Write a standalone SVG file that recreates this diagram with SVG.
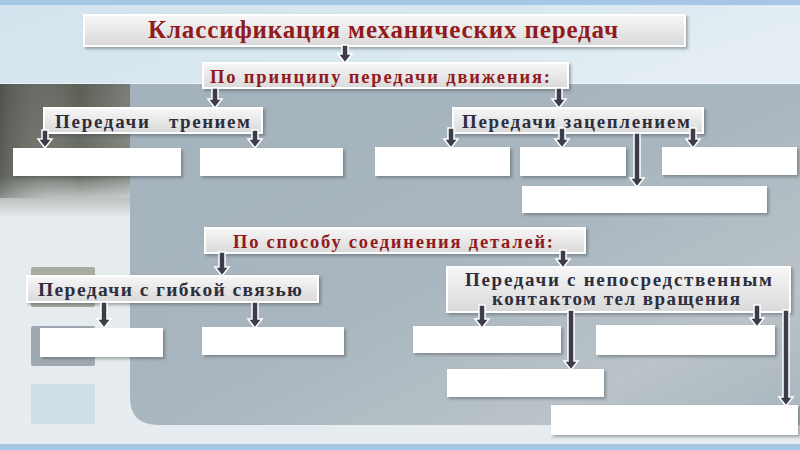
<svg xmlns="http://www.w3.org/2000/svg" width="800" height="450" viewBox="0 0 800 450">
<defs>
<linearGradient id="topBg" x1="0" y1="0" x2="1" y2="0.3">
<stop offset="0" stop-color="#d3e4ee"/><stop offset="0.6" stop-color="#d9e8f0"/><stop offset="1" stop-color="#e4eef4"/>
</linearGradient>
<linearGradient id="panel" x1="0" y1="0" x2="1" y2="1">
<stop offset="0" stop-color="#a3b2bc"/><stop offset="0.5" stop-color="#a9b6bf"/><stop offset="0.8" stop-color="#b9c3c8"/><stop offset="1" stop-color="#a9b6be"/>
</linearGradient>
<linearGradient id="leftCol" x1="0" y1="0" x2="0" y2="1">
<stop offset="0" stop-color="#5a5e55"/><stop offset="0.27" stop-color="#6e726a"/><stop offset="0.33" stop-color="#b9bebd"/><stop offset="0.39" stop-color="#e6ebee"/><stop offset="1" stop-color="#e6ecef"/>
</linearGradient>
<linearGradient id="leftShade" x1="0" y1="0" x2="1" y2="0">
<stop offset="0" stop-color="#3f433c" stop-opacity="0.4"/><stop offset="0.6" stop-color="#ffffff" stop-opacity="0"/><stop offset="1" stop-color="#ffffff" stop-opacity="0.2"/>
</linearGradient>
<linearGradient id="boxGrad" x1="0" y1="0" x2="0" y2="1">
<stop offset="0" stop-color="#f7f7f7"/><stop offset="1" stop-color="#d9d9d9"/>
</linearGradient>
<filter id="sh" x="-10%" y="-30%" width="120%" height="170%">
<feDropShadow dx="2" dy="2" stdDeviation="1.5" flood-color="#404850" flood-opacity="0.45"/>
</filter>
<style>
.node rect.b{fill:url(#boxGrad);stroke:#ffffff;stroke-width:2;filter:url(#sh)}
.leaf rect{fill:#ffffff;filter:url(#sh)}
.red{font-family:"Liberation Serif","DejaVu Serif",serif;font-weight:bold;fill:#921a1d}
.dark{font-family:"Liberation Serif","DejaVu Serif",serif;font-weight:bold;fill:#2e2e3c}
.arr path{fill:#3d3c4a;stroke:#ffffff;stroke-width:1.5;stroke-linejoin:miter}
</style>
</defs>

<!-- background -->
<rect x="0" y="0" width="800" height="450" fill="#e6ecef"/>
<rect x="0" y="5" width="800" height="79" fill="url(#topBg)"/>
<rect x="0" y="83" width="131" height="345" fill="url(#leftCol)"/>
<rect x="0" y="83" width="131" height="115" fill="url(#leftShade)"/>
<path d="M130 83 H800 V425 H158 Q130 425 130 397 Z" fill="url(#panel)"/>
<line x1="0" y1="83.5" x2="800" y2="83.5" stroke="#eef4f8" stroke-width="1"/>
<rect x="0" y="0" width="800" height="5" fill="#a6c6e6"/>
<rect x="0" y="444" width="800" height="6" fill="#a6c6e6"/>
<g id="squares">
<rect x="31" y="267" width="64" height="40" rx="2" fill="#a9ad9f"/>
<rect x="31" y="326" width="64" height="40" rx="2" fill="#9fa9b1"/>
<rect x="31" y="384" width="64" height="40" rx="2" fill="#cfe0e6"/>
</g>

<!-- nodes -->
<g id="n-title" class="node">
<rect class="b" x="84" y="15" width="601" height="31"/>
<text class="red" x="148" y="38" font-size="25" textLength="470" lengthAdjust="spacing">Классификация механических передач</text>
</g>
<g id="n-principle" class="node">
<rect class="b" x="203" y="63" width="365" height="25"/>
<text class="red" x="210" y="83" font-size="18.5" textLength="340" lengthAdjust="spacing">По принципу передачи движения:</text>
</g>
<g id="n-friction" class="node">
<rect class="b" x="44" y="108" width="218" height="25"/>
<text class="dark" font-size="19"><tspan x="55" y="128" textLength="94" lengthAdjust="spacing">Передачи</tspan><tspan x="169" y="128" textLength="81" lengthAdjust="spacing">трением</tspan></text>
</g>
<g id="n-gearing" class="node">
<rect class="b" x="453" y="108" width="250" height="25"/>
<text class="dark" x="462" y="128" font-size="19" textLength="228" lengthAdjust="spacing">Передачи зацеплением</text>
</g>
<g id="n-connection" class="node">
<rect class="b" x="205" y="228" width="380" height="25"/>
<text class="red" x="233" y="248" font-size="18.5" textLength="320" lengthAdjust="spacing">По способу соединения деталей:</text>
</g>
<g id="n-flexible" class="node">
<rect class="b" x="27" y="276" width="291" height="26"/>
<text class="dark" x="38" y="296" font-size="19.5" textLength="264" lengthAdjust="spacing">Передачи с гибкой связью</text>
</g>
<g id="n-direct" class="node">
<rect class="b" x="447" y="267" width="343" height="45"/>
<text class="dark" font-size="19"><tspan x="465" y="286" textLength="307" lengthAdjust="spacing">Передачи с непосредственным</tspan><tspan x="492" y="305" textLength="248" lengthAdjust="spacing">контактом тел вращения</tspan></text>
</g>

<g id="leaf-1" class="leaf"><rect x="13" y="148" width="168" height="28"/></g>
<g id="leaf-2" class="leaf"><rect x="200" y="148" width="143" height="28"/></g>
<g id="leaf-3" class="leaf"><rect x="375" y="147" width="135" height="29"/></g>
<g id="leaf-4" class="leaf"><rect x="520" y="147" width="106" height="29"/></g>
<g id="leaf-5" class="leaf"><rect x="662" y="147" width="135" height="28"/></g>
<g id="leaf-6" class="leaf"><rect x="522" y="186" width="245" height="27"/></g>
<g id="leaf-7" class="leaf"><rect x="40" y="328" width="123" height="29"/></g>
<g id="leaf-8" class="leaf"><rect x="202" y="327" width="142" height="28"/></g>
<g id="leaf-9" class="leaf"><rect x="413" y="326" width="148" height="27"/></g>
<g id="leaf-10" class="leaf"><rect x="596" y="325" width="179" height="30"/></g>
<g id="leaf-11" class="leaf"><rect x="447" y="369" width="157" height="28"/></g>
<g id="leaf-12" class="leaf"><rect x="551" y="405" width="247" height="30"/></g>

<!-- connectors -->
<g id="connectors" class="arr">
<path d="M342 45 V54 H338 L345 63 L352 54 H348 V45 Z"/>
<path d="M212 88 V99 H208 L215 108 L222 99 H218 V88 Z"/>
<path d="M556 88 V99 H552 L559 108 L566 99 H562 V88 Z"/>
<path d="M42 130 V139 H38 L45 148 L52 139 H48 V130 Z"/>
<path d="M252 130 V139 H248 L255 148 L262 139 H258 V130 Z"/>
<path d="M448 128 V139 H444 L451 148 L458 139 H454 V128 Z"/>
<path d="M559 128 V139 H555 L562 148 L569 139 H565 V128 Z"/>
<path d="M634 133 V178 H630 L637 187 L644 178 H640 V133 Z"/>
<path d="M690 128 V139 H686 L693 148 L700 139 H696 V128 Z"/>
<path d="M219 252 V267 H215 L222 276 L229 267 H225 V252 Z"/>
<path d="M560 250 V259 H556 L563 268 L570 259 H566 V250 Z"/>
<path d="M101 302 V319 H97 L104 328 L111 319 H107 V302 Z"/>
<path d="M252 302 V319 H248 L255 328 L262 319 H258 V302 Z"/>
<path d="M479 305 V319 H475 L482 328 L489 319 H485 V305 Z"/>
<path d="M568 310 V361 H564 L571 370 L578 361 H574 V310 Z"/>
<path d="M754 305 V318 H750 L757 327 L764 318 H760 V305 Z"/>
<path d="M783 310 V397 H779 L786 406 L793 397 H789 V310 Z"/>
</g>
</svg>
